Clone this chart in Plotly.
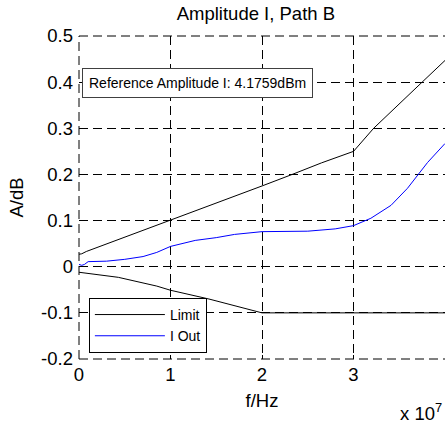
import plotly.graph_objects as go

# upper / lower limit (dB) vs frequency (Hz)
upper_f = [0, 0.03e7, 0.08e7, 0.5e7, 1.0e7, 1.2e7, 1.5e7, 2.0e7, 2.33e7, 2.65e7, 3.0e7, 3.22e7, 3.75e7, 4.0e7]
upper_a = [0.027, 0.028, 0.033, 0.064, 0.100, 0.115, 0.137, 0.175, 0.200, 0.225, 0.250, 0.300, 0.400, 0.447]

lower_f = [0, 0.43e7, 0.85e7, 1.0e7, 1.42e7, 2.0e7, 3.0e7, 4.0e7]
lower_a = [-0.012, -0.023, -0.042, -0.051, -0.070, -0.100, -0.100, -0.100]

# measured I out
iout_f = [0, 0.03e7, 0.06e7, 0.1e7, 0.3e7, 0.5e7, 0.7e7, 0.85e7, 1.0e7, 1.27e7, 1.5e7, 1.7e7, 2.0e7,
          2.5e7, 2.8e7, 3.0e7, 3.19e7, 3.41e7, 3.59e7, 3.71e7, 3.81e7, 4.0e7]
iout_a = [0.005, 0.003, 0.005, 0.011, 0.012, 0.016, 0.022, 0.031, 0.044, 0.057, 0.063, 0.070, 0.076,
          0.077, 0.082, 0.089, 0.105, 0.133, 0.170, 0.200, 0.226, 0.267]

x_ticks = [0, 1e7, 2e7, 3e7]
x_labels = ["0", "1", "2", "3"]
y_ticks = [-0.2, -0.1, 0, 0.1, 0.2, 0.3, 0.4, 0.5]
y_labels = ["-0.2", "-0.1", "0", "0.1", "0.2", "0.3", "0.4", "0.5"]

FONT = "Liberation Sans, Arial, sans-serif"
DASH = "9px,5px"

fig = go.Figure()
fig.add_trace(go.Scatter(x=upper_f, y=upper_a, mode="lines", name="Limit",
                         line=dict(color="black", width=1), legendgroup="lim"))
fig.add_trace(go.Scatter(x=iout_f, y=iout_a, mode="lines", name="I Out",
                         line=dict(color="#0000ff", width=1)))
fig.add_trace(go.Scatter(x=lower_f, y=lower_a, mode="lines", name="Limit",
                         line=dict(color="black", width=1), legendgroup="lim", showlegend=False))

axis_common = dict(
    showgrid=True, gridcolor="black", gridwidth=1, griddash=DASH,
    zeroline=False, showline=False, automargin=False,
    ticks="inside", ticklen=4, tickcolor="black",
    tickfont=dict(size=18.5, color="black", family=FONT),
)

fig.update_xaxes(range=[0, 4e7], tickvals=x_ticks, ticktext=x_labels, ticklabelstandoff=2,
                 title=dict(text="f/Hz", font=dict(size=18.5, color="black", family=FONT), standoff=10),
                 **axis_common)
fig.update_yaxes(range=[-0.2, 0.5], tickvals=y_ticks, ticktext=y_labels, ticklabelstandoff=5,
                 title=dict(text="A/dB", font=dict(size=18.5, color="black", family=FONT), standoff=12),
                 **axis_common)

# plotly skips grid lines on the frame edges, so draw those edges dashed
edge = dict(type="line", xref="paper", yref="paper", line=dict(color="black", width=1, dash=DASH))
fig.add_shape(x0=0, x1=1, y0=1, y1=1, **edge)
fig.add_shape(x0=0, x1=1, y0=0, y1=0, **edge)
fig.add_shape(x0=0, x1=0, y0=0, y1=1, **edge)

fig.add_annotation(text="x 10<sup>7</sup>", xref="paper", yref="paper", x=0.997, y=-0.165,
                   xanchor="right", yanchor="middle", showarrow=False,
                   font=dict(size=18.5, color="black", family=FONT))

fig.add_annotation(text="Reference Amplitude I: 4.1759dBm", xref="paper", yref="paper",
                   x=0.008, y=0.901, xanchor="left", yanchor="top", showarrow=False,
                   bgcolor="white", bordercolor="#404040", borderwidth=1, borderpad=6,
                   font=dict(size=14, color="black", family=FONT))

fig.update_layout(
    width=445, height=424,
    margin=dict(l=79, r=0, t=36, b=65),
    paper_bgcolor="white", plot_bgcolor="white",
    font=dict(family=FONT, color="black"),
    hovermode=False,
    title=dict(text="Amplitude I, Path B", x=0.575, xanchor="center",
               y=1 - 14 / 424, yanchor="middle", automargin=False,
               font=dict(size=18.5, color="black", family=FONT)),
    legend=dict(x=0.027, y=0.189, xanchor="left", yanchor="top",
                bgcolor="white", bordercolor="black", borderwidth=1,
                itemwidth=70,
                font=dict(size=14, color="black", family=FONT),
                tracegroupgap=0),
    showlegend=True,
)

# drop the default 8px page margin so the figure fills the window
fig.write_html("out.html", config={"displayModeBar": False},
               post_script="document.body.style.margin='0';document.body.style.overflow='hidden';")
